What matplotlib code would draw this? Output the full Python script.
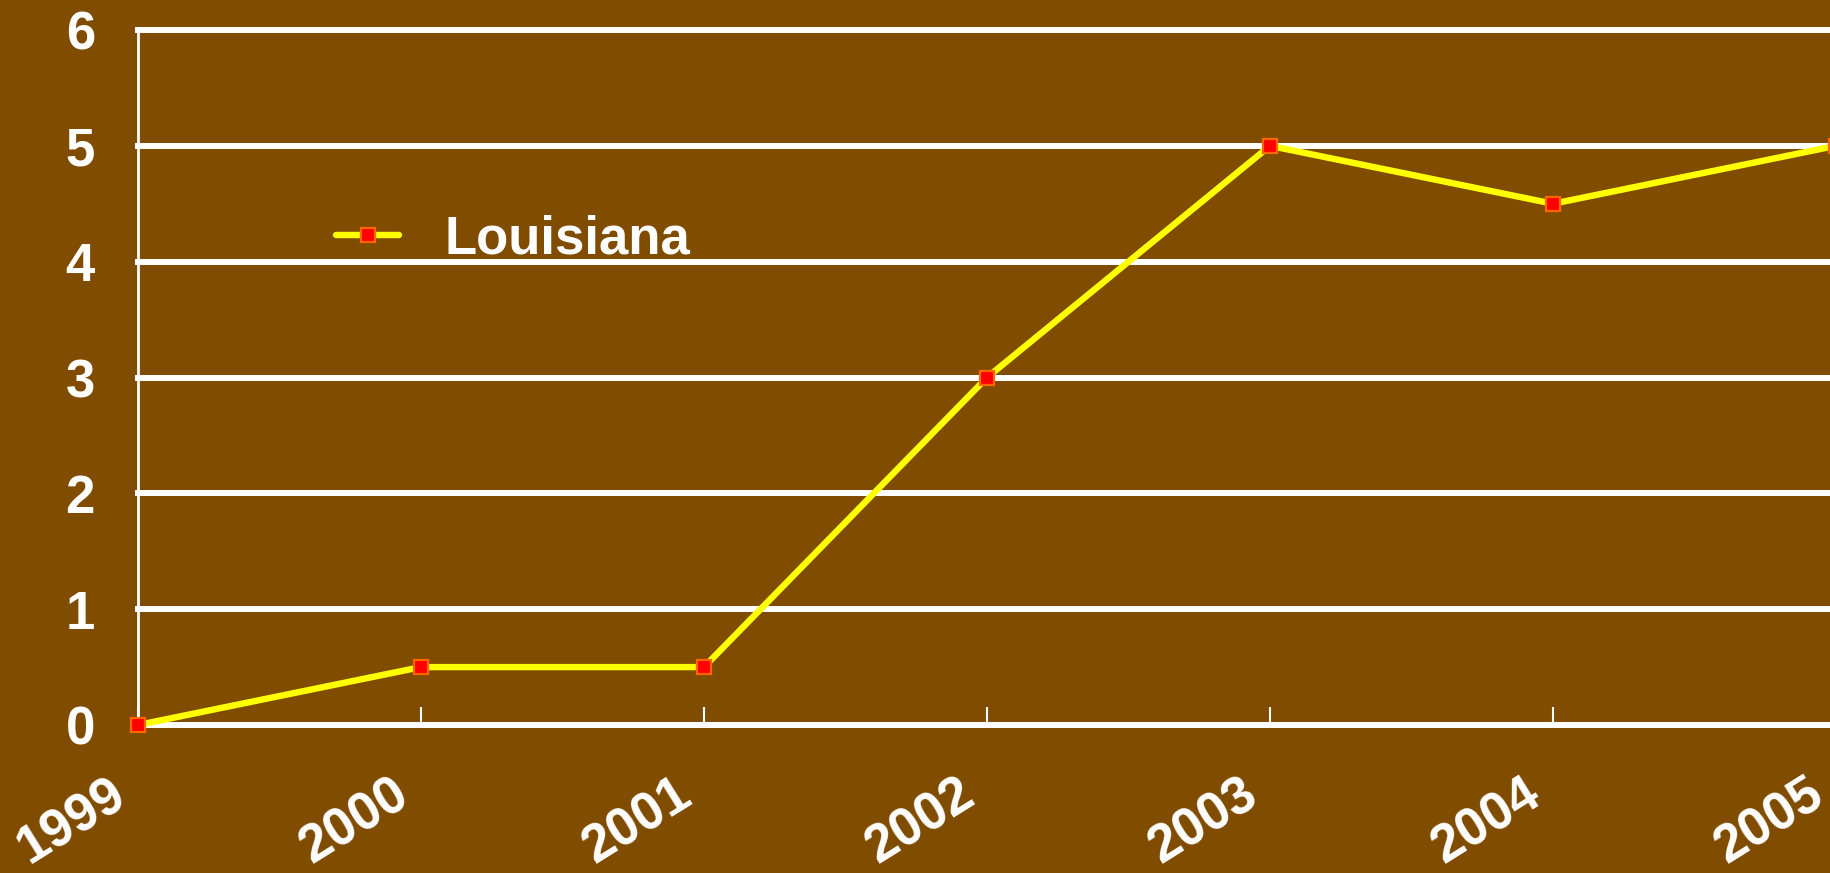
import matplotlib
matplotlib.use("Agg")
import matplotlib.pyplot as plt
from matplotlib.transforms import ScaledTranslation

# data
YEARS = [1999, 2000, 2001, 2002, 2003, 2004, 2005]
LOUISIANA = [0, 0.5, 0.5, 3, 5, 4.5, 5]
Y_TICKS = [0, 1, 2, 3, 4, 5, 6]
SERIES_LABEL = "Louisiana"

BG = "#7F4C00"
FS = 38
plt.rcParams["font.family"] = ["Liberation Sans", "DejaVu Sans"]
plt.rcParams["font.weight"] = "bold"

fig = plt.figure(figsize=(18.31, 8.73), dpi=100, facecolor=BG)
ax = fig.add_axes([138 / 1831, 148 / 873, 1698 / 1831, 695 / 873])
ax.set_facecolor(BG)

ax.plot(YEARS, LOUISIANA, color="#FFFF00", linewidth=4.6, marker="s",
        markersize=9.5, markerfacecolor="#FF0000", markeredgecolor="#FF6600",
        markeredgewidth=1.6, label=SERIES_LABEL, clip_on=False, zorder=5,
        solid_capstyle="round")

ax.set_xlim(YEARS[0], YEARS[-1])
ax.set_ylim(Y_TICKS[0], Y_TICKS[-1])
ax.set_yticks(Y_TICKS)
ax.set_xticks(YEARS)
ax.yaxis.grid(True, color="white", linewidth=4.3)
ax.set_axisbelow(True)
# keep the top gridline at full thickness
for gl in ax.get_ygridlines():
    gl.set_clip_on(False)

for side in ("top", "right"):
    ax.spines[side].set_visible(False)
for side in ("left", "bottom"):
    ax.spines[side].set_color("white")
    ax.spines[side].set_linewidth(2)

ax.tick_params(axis="y", length=0, pad=31, labelsize=FS, labelcolor="white")
ax.tick_params(axis="x", direction="in", length=13, width=1.5, color="white",
               pad=32, labelsize=FS, labelcolor="white")
ax.set_xticklabels([str(y) for y in YEARS], rotation=32, ha="right",
                   va="top", rotation_mode="anchor")
shift = ScaledTranslation(-0.3, 0, fig.dpi_scale_trans)
for lab in ax.get_xticklabels():
    lab.set_transform(lab.get_transform() + shift)
    lab.set_fontweight("bold")
for lab in ax.get_yticklabels():
    lab.set_fontweight("bold")

leg = ax.legend(loc="center left", bbox_to_anchor=(0.1166, 0.698),
                frameon=False, borderpad=0, borderaxespad=0,
                handlelength=1.2, handletextpad=0.85,
                prop={"size": FS, "weight": "bold"})
for t in leg.get_texts():
    t.set_color("white")

fig.savefig("out.png", dpi=100, facecolor=BG)
